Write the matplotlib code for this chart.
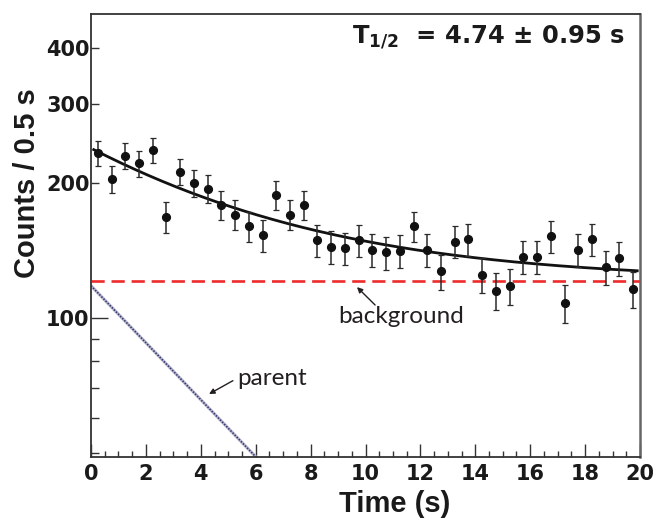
import numpy as np
import matplotlib
matplotlib.use("Agg")
import matplotlib.pyplot as plt
from matplotlib.ticker import FixedLocator, NullFormatter

# Measured decay spectrum: bin centres (s) and counts per 0.5 s bin
time_s = [0.25, 0.75, 1.25, 1.75, 2.25, 2.75, 3.25, 3.75, 4.25, 4.75,
          5.25, 5.75, 6.25, 6.75, 7.25, 7.75, 8.25, 8.75, 9.25, 9.75,
          10.25, 10.75, 11.25, 11.75, 12.25, 12.75, 13.25, 13.75, 14.25, 14.75,
          15.25, 15.75, 16.25, 16.75, 17.25, 17.75, 18.25, 18.75, 19.25, 19.75]
counts = [233, 204, 230, 221, 237, 168, 212, 200, 194, 179,
          170, 160, 153, 188, 170, 179, 149, 144, 143, 149,
          142, 140, 141, 160, 142, 127, 148, 150, 125, 115,
          118, 137, 137, 152, 108, 142, 150, 130, 136, 116]

# Fit components
half_life = 4.74
half_life_err = 0.95
background_level = 121.0
parent_amplitude = 118.0

x_ticks = [0, 2, 4, 6, 8, 10, 12, 14, 16, 18, 20]
y_ticks = [100, 200, 300, 400]
y_minor = [50, 60, 70, 80, 90]

W, H = 657, 521
fig = plt.figure(figsize=(W / 100, H / 100), dpi=100)
ax = fig.add_axes([91 / W, 64 / H, 549 / W, 443 / H])

t = np.asarray(time_s)
n = np.asarray(counts, dtype=float)
err = np.sqrt(n)

lam = np.log(2) / half_life
tt = np.linspace(0.0, 20.0, 400)
parent = parent_amplitude * np.exp(-lam * tt)

# parent component
ax.plot(tt, parent, color="#b4b4cc", lw=2.2, solid_capstyle="butt", zorder=2)
ax.plot(tt, parent, color="#3a3a6e", lw=1.2, linestyle=(0, (0.9, 0.9)), zorder=2)

# background component
ax.axhline(background_level, color="#ee2b2b", lw=1.9,
           linestyle=(0, (5.0, 2.6)), zorder=2)

# total fit
tf = np.linspace(0.1, 19.9, 400)
fit = background_level + parent_amplitude * np.exp(-lam * tf)
ax.plot(tf, fit, color="#111111", lw=2.0, zorder=3)

# data
ax.errorbar(t, n, yerr=err, fmt="o", color="#111111", ms=5.6,
            ecolor="#2a2a2a", elinewidth=1.1, capsize=2.3, capthick=0.9, zorder=4)

ax.set_yscale("log")
ax.set_xlim(0, 20)
ax.set_ylim(49.0, 476.0)

ax.xaxis.set_major_locator(FixedLocator(x_ticks))
ax.xaxis.set_minor_locator(FixedLocator(np.arange(0, 20.01, 0.5)))
ax.yaxis.set_major_locator(FixedLocator(y_ticks))
ax.yaxis.set_minor_locator(FixedLocator(y_minor))
ax.yaxis.set_minor_formatter(NullFormatter())
ax.set_xticklabels([str(v) for v in x_ticks])
ax.set_yticklabels([str(v) for v in y_ticks])

tick_font = dict(family="DejaVu Sans", weight="bold", size=15)
for lab in ax.get_xticklabels() + ax.get_yticklabels():
    lab.set_fontfamily(tick_font["family"])
    lab.set_fontweight(tick_font["weight"])
    lab.set_fontsize(tick_font["size"])
    lab.set_color("#1a1a1a")

ax.tick_params(axis="x", which="major", direction="in", length=9.5, width=1.0,
               color="#333333", pad=5, top=False)
ax.tick_params(axis="x", which="minor", direction="in", length=4.5, width=1.0,
               color="#333333", top=False)
ax.tick_params(axis="y", which="major", direction="in", length=6.0, width=1.0,
               color="#333333", pad=1, right=False)
ax.tick_params(axis="y", which="minor", direction="in", length=6.0, width=1.0,
               color="#333333", right=False)
# decade tick drawn longer
ax.yaxis.get_major_ticks()[0].tick1line.set_markersize(12.5)

for side in ["left", "bottom", "top", "right"]:
    ax.spines[side].set_color("#333333")
    ax.spines[side].set_linewidth(1.3)
ax.spines["right"].set_color("#666666")
ax.spines["right"].set_linewidth(1.8)

# annotations
label_font = dict(family="Lato", size=17.5, color="#231f20")
ax.text(9.0, 97.3, "background", ha="left", va="baseline", **label_font)
ax.annotate("", xy=(9.69, 117.2), xytext=(10.35, 106.9),
            arrowprops=dict(arrowstyle="-|>", lw=1.0, color="#231f20",
                            mutation_scale=8, shrinkA=0, shrinkB=0))
ax.text(5.34, 70.9, "parent", ha="left", va="baseline", **label_font)
ax.annotate("", xy=(4.30, 67.7), xytext=(5.17, 72.5),
            arrowprops=dict(arrowstyle="-|>", lw=1.0, color="#231f20",
                            mutation_scale=8, shrinkA=0, shrinkB=0))

plt.rcParams["mathtext.fontset"] = "custom"
plt.rcParams["mathtext.bf"] = "DejaVu Sans:bold"
plt.rcParams["mathtext.rm"] = "DejaVu Sans:bold"
fig.text(625 / W, 1 - 43 / H,
         r"$\mathbf{T}_{\mathbf{1/2}}$" + f"  = {half_life:.2f} \u00b1 {half_life_err:.2f} s",
         ha="right", va="baseline", family="DejaVu Sans", weight="bold",
         size=17.5, color="#1a1a1a")

fig.text(395 / W, 1 - 512 / H, "Time (s)", ha="center", va="baseline",
         family="Liberation Sans", weight="bold", size=21, color="#1a1a1a")
fig.text(35 / W, 1 - 183 / H, "Counts / 0.5 s", ha="center", va="baseline",
         rotation=90, rotation_mode="anchor",
         family="Liberation Sans", weight="bold", size=21, color="#1a1a1a")

fig.savefig("out.png", dpi=100)
